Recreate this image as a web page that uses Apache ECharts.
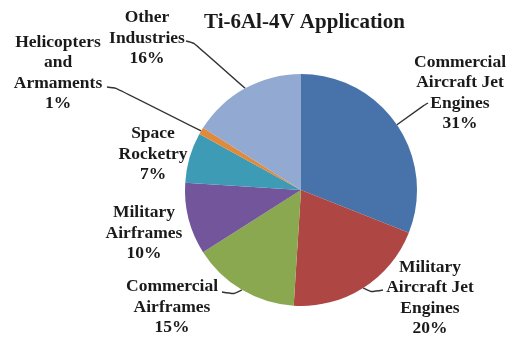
<!DOCTYPE html>
<html>
<head>
<meta charset="utf-8">
<script src="https://cdn.jsdelivr.net/npm/echarts@6/dist/echarts.min.js"></script>
<style>
  html, body { margin: 0; padding: 0; background: #fff; }
  #chart { width: 509px; height: 340px; }
</style>
</head>
<body>
<div id="chart"></div>
<script>
// Ti-6Al-4V usage share by application (percent)
const categories = [
  'Commercial\nAircraft Jet\nEngines',
  'Military\nAircraft Jet\nEngines',
  'Commercial\nAirframes',
  'Military\nAirframes',
  'Space\nRocketry',
  'Helicopters\nand\nArmaments',
  'Other\nIndustries'
];
const shares = [31, 20, 15, 10, 7, 1, 16];
const sliceColors = ['#4873AA', '#AE4644', '#8AA84F', '#72559A', '#3E9BB5', '#E08A3C', '#92A9D1'];

// Where each label block sits (centre of the text block) and the bend/end of its leader line
const labelPlacement = [
  { x: 460, y: 93,  guide: [[423, 106], [428, 103]] },
  { x: 430, y: 298, guide: [[371, 292], [383, 290]] },
  { x: 172, y: 307, guide: [[234, 294], [222, 292]] },
  { x: 144, y: 233, guide: null },
  { x: 153, y: 154, guide: null },
  { x: 58,  y: 73,  guide: [[116, 88], [107, 87]] },
  { x: 147, y: 38,  guide: [[194, 43], [186, 41]] }
];

const chart = echarts.init(document.getElementById('chart'), null, { renderer: 'canvas' });

const pieData = categories.map((name, i) => ({
  name: name,
  value: shares[i],
  itemStyle: { color: sliceColors[i] },
  labelLine: { show: !!labelPlacement[i].guide }
}));

chart.setOption({
  animation: false,
  backgroundColor: '#ffffff',
  title: {
    text: 'Ti-6Al-4V Application',
    left: 199,
    top: 7,
    textStyle: {
      fontFamily: '"Liberation Serif", "DejaVu Serif", serif',
      fontWeight: 'bold',
      fontSize: 21,
      color: '#1a1a1a'
    }
  },
  series: [{
    type: 'pie',
    center: [301, 190],
    radius: 116,
    startAngle: 90,
    clockwise: true,
    avoidLabelOverlap: false,
    data: pieData,
    itemStyle: { borderWidth: 0 },
    label: {
      show: true,
      position: 'outside',
      formatter: '{b}\n{c}%',
      fontFamily: '"Liberation Serif", "DejaVu Serif", serif',
      fontWeight: 'bold',
      fontSize: 17.5,
      lineHeight: 20.5,
      color: '#1a1a1a',
      align: 'center',
      width: 160,
      overflow: 'none'
    },
    labelLine: {
      show: true,
      smooth: 0.2,
      lineStyle: { color: '#333333', width: 1.4 }
    },
    labelLayout: function (params) {
      const cfg = labelPlacement[params.dataIndex];
      const out = { x: cfg.x, y: cfg.y, align: 'center', verticalAlign: 'middle' };
      if (cfg.guide && params.labelLinePoints && params.labelLinePoints[0]) {
        out.labelLinePoints = [params.labelLinePoints[0].slice()].concat(cfg.guide);
      }
      return out;
    },
    emphasis: { disabled: true }
  }]
});
</script>
</body>
</html>
